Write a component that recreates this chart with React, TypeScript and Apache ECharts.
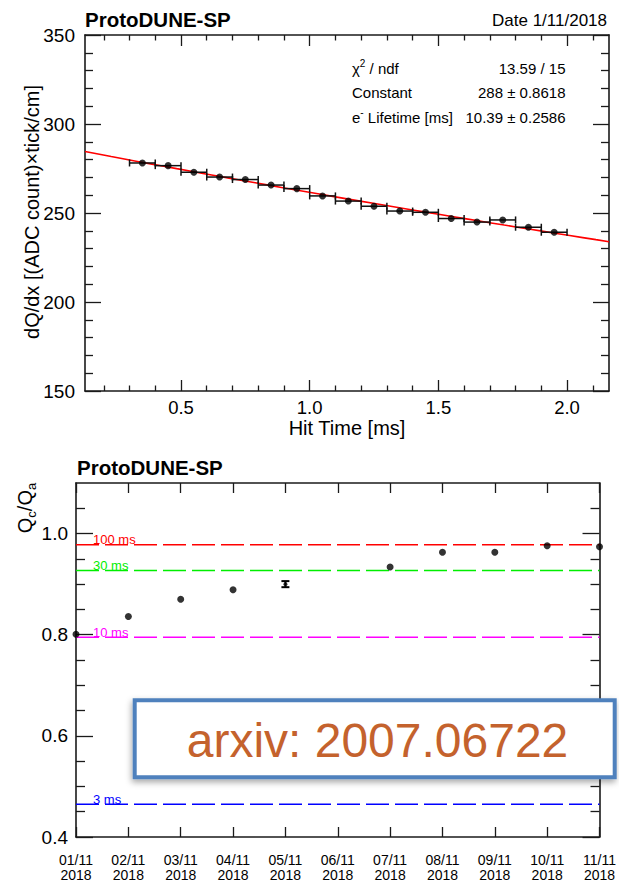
import React, { useEffect, useRef } from "react";
import * as echarts from "echarts";

const FONT = "'Liberation Sans', Arial, Helvetica, sans-serif";

// ---------- Top panel: dQ/dx vs hit time ----------
const hitTimeMs = [0.35, 0.45, 0.55, 0.65, 0.75, 0.85, 0.95, 1.05, 1.15, 1.25, 1.35, 1.45, 1.55, 1.65, 1.75, 1.85, 1.95];
const dQdxValues = [278.1, 276.6, 272.9, 270.2, 268.8, 265.7, 263.7, 259.6, 256.7, 253.8, 251.1, 250.4, 246.9, 244.9, 246.1, 242.0, 239.2];
const hitTimeBinHalfWidth = 0.05;
const fitConstant = 288;
const fitLifetimeMs = 10.39;
const topXRange = [0.127, 2.163];
const topYRange = [150, 350];
const topXMajorTicks = [0.5, 1.0, 1.5, 2.0];
const topXMinorTicks = [0.2, 0.3, 0.4, 0.6, 0.7, 0.8, 0.9, 1.1, 1.2, 1.3, 1.4, 1.6, 1.7, 1.8, 1.9, 2.1];
const statsNames = ["{n|χ}{sup|2}{n| / ndf}", "{n|Constant}", "{n|e}{sup|-}{n| Lifetime [ms]}"];
const statsValues = ["13.59 / 15", "288 ± 0.8618", "10.39 ± 0.2586"];
const topTitle = "ProtoDUNE-SP";
const topDate = "Date 1/11/2018";
const topYTitle = "dQ/dx [(ADC count)×tick/cm]";
const topXTitle = "Hit Time [ms]";

// ---------- Bottom panel: Qc/Qa vs date ----------
const dayLabels = ["01/11", "02/11", "03/11", "04/11", "05/11", "06/11", "07/11", "08/11", "09/11", "10/11", "11/11"];
const yearLabel = "2018";
const qRatio = [0.801, 0.836, 0.870, 0.889, 0.900, null, 0.934, 0.963, 0.963, 0.976, 0.974];
const qRatioErr = [0, 0, 0, 0, 0.006, null, 0, 0, 0, 0, 0];
const lifetimeNames = ["100 ms", "30 ms", "10 ms", "3 ms"];
const lifetimeQRatio = [0.978, 0.927, 0.795, 0.465];
const lifetimeColors = ["#ff0000", "#00ee00", "#ff00ff", "#0000ff"];
const bottomYRange = [0.4, 1.1];
const bottomYMajorTicks = [0.4, 0.6, 0.8, 1.0];
const bottomYMinorTicks = [0.45, 0.5, 0.55, 0.65, 0.7, 0.75, 0.85, 0.9, 0.95, 1.05];
const bottomTitle = "ProtoDUNE-SP";
const arxivText = "arxiv: 2007.06722";

const FRAME = { color: "#1a1a1a", width: 1.6 };
const TICK = { color: "#1a1a1a", width: 1.3 };

export default function App() {
  const ref = useRef<HTMLDivElement>(null);

  useEffect(() => {
    const chart = echarts.init(ref.current as HTMLDivElement, null, { renderer: "svg" });

    const fitSamples = 40;
    const fitCurve: number[][] = [];
    for (let k = 0; k <= fitSamples; k++) {
      const t = topXRange[0] + ((topXRange[1] - topXRange[0]) * k) / fitSamples;
      fitCurve.push([t, fitConstant * Math.exp(-t / fitLifetimeMs)]);
    }

    const topPoints = hitTimeMs.map((t, i) => [t, dQdxValues[i]]);

    const bottomPoints: any[] = [];
    const bottomErrs: any[] = [];
    qRatio.forEach((v, i) => {
      if (v == null) return;
      const e = qRatioErr[i] as number;
      bottomPoints.push({ value: [i, v], symbolSize: e > 0 ? 4 : 7 });
      if (e > 0) bottomErrs.push([i, v, e]);
    });

    const valueXAxis = (pos: string, ticks: number[], len: number, line: boolean, labels: boolean) => ({
      type: "value",
      gridIndex: 0,
      position: pos,
      min: topXRange[0],
      max: topXRange[1],
      axisLine: { show: line, onZero: false, lineStyle: FRAME },
      axisTick: { show: true, inside: true, length: len, customValues: ticks, lineStyle: TICK },
      axisLabel: labels
        ? {
            show: true,
            customValues: topXMajorTicks,
            formatter: (v: number) => v.toFixed(1),
            fontSize: 18.5,
            lineHeight: 18,
            fontFamily: FONT,
            color: "#000",
            margin: 7,
          }
        : { show: false },
      splitLine: { show: false },
    });

    const topYAxis = (pos: string, labels: boolean) => ({
      type: "value",
      gridIndex: 0,
      position: pos,
      min: topYRange[0],
      max: topYRange[1],
      interval: 50,
      axisLine: { show: true, onZero: false, lineStyle: FRAME },
      axisTick: { show: true, inside: true, length: 16, lineStyle: TICK },
      minorTick: { show: true, splitNumber: 5, length: 8, lineStyle: TICK },
      axisLabel: labels
        ? { show: true, fontSize: 19, fontFamily: FONT, color: "#000", margin: 10 }
        : { show: false },
      splitLine: { show: false },
      minorSplitLine: { show: false },
    });

    const bottomYAxis = (pos: string, ticks: number[], len: number, line: boolean, labels: boolean) => ({
      type: "value",
      gridIndex: 1,
      position: pos,
      min: bottomYRange[0],
      max: bottomYRange[1],
      axisLine: { show: line, onZero: false, lineStyle: FRAME },
      axisTick: { show: true, inside: true, length: len, customValues: ticks, lineStyle: TICK },
      axisLabel: labels
        ? {
            show: true,
            customValues: bottomYMajorTicks,
            formatter: (v: number) => v.toFixed(1),
            fontSize: 19,
            fontFamily: FONT,
            color: "#000",
            margin: 8,
          }
        : { show: false },
      splitLine: { show: false },
    });

    const dateAxis = (pos: string, labels: boolean) => ({
      type: "category",
      gridIndex: 1,
      position: pos,
      data: dayLabels,
      boundaryGap: false,
      axisLine: { show: true, onZero: false, lineStyle: FRAME },
      axisTick: { show: true, inside: true, length: 10, interval: 0, lineStyle: TICK },
      axisLabel: labels
        ? {
            show: true,
            interval: 0,
            formatter: (v: string) => v + "\n" + yearLabel,
            fontSize: 14,
            lineHeight: 14.5,
            fontFamily: FONT,
            color: "#000",
            margin: 16,
          }
        : { show: false },
      splitLine: { show: false },
    });

    const textEl = (text: string, x: number, y: number, opts: any = {}) => ({
      type: "text",
      x,
      y,
      rotation: opts.rotation || 0,
      z: 50,
      style: {
        text,
        fill: opts.fill || "#000",
        fontSize: opts.fontSize || 15,
        fontWeight: opts.fontWeight || "normal",
        fontFamily: FONT,
        align: opts.align || "left",
        verticalAlign: opts.verticalAlign || "middle",
        textAlign: opts.align || "left",
        textVerticalAlign: opts.verticalAlign || "middle",
        rich: opts.rich,
      },
    });

    const statsRich = {
      n: { fontSize: 15, fontFamily: FONT, fill: "#000", lineHeight: 20, verticalAlign: "middle" },
      sup: { fontSize: 10, fontFamily: FONT, fill: "#000", verticalAlign: "top" },
    };
    const statRowY = [68, 92.5, 117];

    const graphics: any[] = [
      textEl(topTitle, 85, 19.5, { fontSize: 20.5, fontWeight: "bold" }),
      textEl(topDate, 607, 20.5, { fontSize: 17, align: "right" }),
      textEl(topYTitle, 32, 212, { fontSize: 20, align: "center", rotation: Math.PI / 2 }),
      textEl(topXTitle, 347, 428, { fontSize: 20, align: "center" }),
      textEl(bottomTitle, 77, 467, { fontSize: 20.5, fontWeight: "bold" }),
      textEl("{b|Q}{s|c}{b|/Q}{s|a}", 25, 508, {
        align: "center",
        rotation: Math.PI / 2,
        rich: {
          b: { fontSize: 20, fontFamily: FONT, fill: "#000", lineHeight: 26, verticalAlign: "middle" },
          s: { fontSize: 13, fontFamily: FONT, fill: "#000", verticalAlign: "bottom" },
        },
      }),
    ];
    statsNames.forEach((n, i) => {
      graphics.push(textEl(n, 352, statRowY[i], { rich: statsRich }));
      graphics.push(textEl(statsValues[i], 565.5, statRowY[i], { align: "right", fontSize: 15 }));
    });
    graphics.push({
      type: "group",
      z: 100,
      children: [
        {
          type: "rect",
          z: 100,
          shape: { x: 134.7, y: 700.3, width: 480, height: 77 },
          style: {
            fill: "#ffffff",
            stroke: "#4f81bd",
            lineWidth: 4,
            shadowBlur: 6,
            shadowColor: "rgba(0,0,0,0.35)",
            shadowOffsetX: -1,
            shadowOffsetY: 3,
          },
        },
        {
          type: "text",
          z: 101,
          x: 377.5,
          y: 740,
          style: {
            text: arxivText,
            fill: "#c4622d",
            fontSize: 48,
            fontFamily: FONT,
            align: "center",
            verticalAlign: "middle",
            textAlign: "center",
            textVerticalAlign: "middle",
          },
        },
      ],
    });

    const option: any = {
      animation: false,
      backgroundColor: "#ffffff",
      grid: [
        { left: 85, top: 35, width: 524, height: 356, containLabel: false },
        { left: 76, top: 483, width: 526, height: 355.4, containLabel: false },
      ],
      xAxis: [
        valueXAxis("bottom", topXMajorTicks, 11, true, true),
        valueXAxis("bottom", topXMinorTicks, 5.5, false, false),
        valueXAxis("top", topXMajorTicks, 11, true, false),
        valueXAxis("top", topXMinorTicks, 5.5, false, false),
        dateAxis("bottom", true),
        dateAxis("top", false),
      ],
      yAxis: [
        topYAxis("left", true),
        topYAxis("right", false),
        bottomYAxis("left", bottomYMajorTicks, 17, true, true),
        bottomYAxis("left", bottomYMinorTicks, 9, false, false),
        bottomYAxis("right", bottomYMajorTicks, 17, true, false),
        bottomYAxis("right", bottomYMinorTicks, 9, false, false),
      ],
      graphic: graphics,
      series: [
        {
          type: "line",
          xAxisIndex: 0,
          yAxisIndex: 0,
          data: fitCurve,
          showSymbol: false,
          symbol: "none",
          smooth: false,
          lineStyle: { color: "#ff0000", width: 1.6 },
          z: 2,
        },
        {
          type: "custom",
          xAxisIndex: 0,
          yAxisIndex: 0,
          data: topPoints,
          encode: { x: 0, y: 1 },
          z: 3,
          renderItem: (params: any, api: any) => {
            const x = api.value(0);
            const y = api.value(1);
            const p1 = api.coord([x - hitTimeBinHalfWidth, y]);
            const p2 = api.coord([x + hitTimeBinHalfWidth, y]);
            const cap = 3.5;
            const st = { stroke: "#111", lineWidth: 1.5 };
            return {
              type: "group",
              children: [
                { type: "line", shape: { x1: p1[0], y1: p1[1], x2: p2[0], y2: p2[1] }, style: st },
                { type: "line", shape: { x1: p1[0], y1: p1[1] - cap, x2: p1[0], y2: p1[1] + cap }, style: st },
                { type: "line", shape: { x1: p2[0], y1: p2[1] - cap, x2: p2[0], y2: p2[1] + cap }, style: st },
              ],
            };
          },
        },
        {
          type: "scatter",
          xAxisIndex: 0,
          yAxisIndex: 0,
          data: topPoints,
          symbol: "circle",
          symbolSize: 7,
          itemStyle: { color: "#000" },
          z: 4,
          clip: false,
        },
        {
          type: "custom",
          xAxisIndex: 4,
          yAxisIndex: 2,
          data: lifetimeQRatio.map((v, i) => [i, v]),
          encode: { x: 0, y: 1 },
          z: 2,
          clip: false,
          renderItem: (params: any, api: any) => {
            const v = api.value(1);
            const i = params.dataIndex;
            const a = api.coord([0, v]);
            const b = api.coord([dayLabels.length - 1, v]);
            const color = lifetimeColors[i];
            return {
              type: "group",
              children: [
                {
                  type: "line",
                  shape: { x1: a[0], y1: a[1], x2: b[0], y2: b[1] },
                  style: { stroke: color, lineWidth: 1.5, lineDash: [23, 6] },
                },
                {
                  type: "text",
                  x: a[0] + 17,
                  y: a[1] + 1.5,
                  style: {
                    text: lifetimeNames[i],
                    fill: color,
                    fontSize: 13,
                    fontFamily: FONT,
                    align: "left",
                    verticalAlign: "bottom",
                    textAlign: "left",
                    textVerticalAlign: "bottom",
                  },
                },
              ],
            };
          },
        },
        {
          type: "custom",
          xAxisIndex: 4,
          yAxisIndex: 2,
          data: bottomErrs,
          encode: { x: 0, y: 1 },
          z: 3,
          clip: false,
          renderItem: (params: any, api: any) => {
            const i = api.value(0);
            const v = api.value(1);
            const e = api.value(2);
            const lo = api.coord([i, v - e]);
            const hi = api.coord([i, v + e]);
            const cap = 4;
            const st = { stroke: "#000", lineWidth: 2 };
            return {
              type: "group",
              children: [
                { type: "line", shape: { x1: lo[0], y1: lo[1], x2: hi[0], y2: hi[1] }, style: st },
                { type: "line", shape: { x1: lo[0] - cap, y1: lo[1], x2: lo[0] + cap, y2: lo[1] }, style: st },
                { type: "line", shape: { x1: hi[0] - cap, y1: hi[1], x2: hi[0] + cap, y2: hi[1] }, style: st },
              ],
            };
          },
        },
        {
          type: "scatter",
          xAxisIndex: 4,
          yAxisIndex: 2,
          data: bottomPoints,
          symbol: "circle",
          symbolSize: 7,
          itemStyle: { color: "#000" },
          z: 4,
          clip: false,
        },
      ],
    };

    chart.setOption(option);
    return () => chart.dispose();
  }, []);

  return (
    <div
      ref={ref}
      style={{ position: "absolute", left: 0, top: 0, width: 619, height: 882, background: "#fff" }}
    />
  );
}
